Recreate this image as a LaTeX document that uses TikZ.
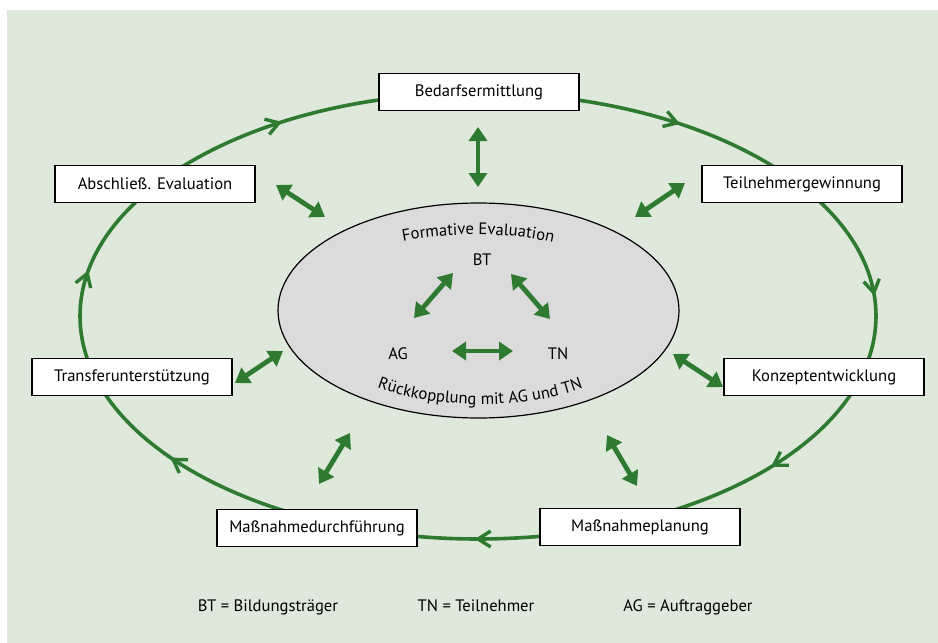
\documentclass[tikz,border=0pt]{standalone}
\usepackage{fontspec}
\setmainfont{PT Sans}
\usepackage{tikz}
\usetikzlibrary{arrows.meta,calc,shapes.geometric,decorations.text}

\definecolor{loopgreen}{RGB}{46,122,48}
\definecolor{bggreen}{RGB}{222,232,219}
\definecolor{ovalgray}{RGB}{218,219,218}

\newcommand{\labelfont}{\fontsize{16.6}{19}\selectfont}

\tikzset{
  phase/.style={draw=black,line width=1.2pt,fill=white,minimum width=200pt,
    minimum height=37pt,inner sep=0pt,font=\labelfont},
  cycleline/.style={draw=loopgreen,line width=3.6pt},
  cyclebarb/.style={draw=loopgreen,line width=3.4pt,line join=miter},
  twoway/.style={loopgreen,line width=4.8pt,
    {Triangle[length=14pt,width=18pt]}-{Triangle[length=14pt,width=18pt]}},
  role/.style={inner sep=1pt,font=\labelfont,anchor=base},
}

\begin{document}
\begin{tikzpicture}[x=1pt,y=-1pt]
  \useasboundingbox (0,0) rectangle (938,643);
  \fill[bggreen] (7,10) rectangle (938,643);

  % outer cycle
  \coordinate (c) at (478,316);
  \draw[cycleline] (c) ellipse [x radius=398pt, y radius=223pt];
  \foreach \a in {60,6,-42,-90,-140,169,120} {
    \pgfmathsetmacro{\th}{atan2(-223*cos(\a),398*sin(\a))}
    \coordinate (tip) at ($(c)+(\a:398pt and 223pt)$);
    \draw[cyclebarb] ($(tip)+(\th+148:15pt)$) -- (tip) -- ($(tip)+(\th-148:15pt)$);
  }

  % phases
  \node[phase] (bedarf)   at (479,92)  {Bedarfsermittlung};
  \node[phase] (teiln)    at (802,184) {Teilnehmergewinnung};
  \node[phase] (konzept)  at (824,377) {Konzeptentwicklung};
  \node[phase] (planung)  at (640,527) {Maßnahmeplanung};
  \node[phase] (durchf)   at (317,528) {Maßnahmedurchführung};
  \node[phase] (transfer) at (132,377) {Transferunterstützung};
  \node[phase] (abschl)   at (155,184) {Abschließ. Evaluation};

  % formative evaluation
  \node[ellipse,draw=black,line width=1.2pt,fill=ovalgray,minimum width=401pt,
    minimum height=215pt,inner sep=0pt] (fe) at (478.5,310.5) {};
  \path[decorate,decoration={text along path,text align=center,
      text={|\labelfont|Formative Evaluation}}]
    (394,243) .. controls (440,232) and (515,231) .. (562,245);
  \path[decorate,decoration={text along path,text align=center,
      text={|\labelfont|Rückkopplung mit AG und TN}}]
    (356,378) .. controls (416,412) and (544,414) .. (604,378);

  \node[role] (bt) at (482,265) {BT};
  \node[role] (ag) at (398,359) {AG};
  \node[role] (tn) at (558,359) {TN};

  % double arrows
  \foreach \n/\xa/\ya/\xb/\yb in {
      bd/478/127/478/187, tg/685/183/635/217, kz/723/387/673/354,
      mp/637/486/607/435, md/319/484/350/433, tu/235/383/283/351,
      ae/276/185/325/217, btag/453/273/414/318, bttn/511/274/550/319,
      agtn/452/351/513/351}
  {
    \coordinate (\n-a) at (\xa,\ya);
    \coordinate (\n-b) at (\xb,\yb);
    \draw[twoway] (\n-a) -- (\n-b);
  }

  % legend
  \node[role] (lbt) at (268,611) {BT = Bildungsträger};
  \node[role] (ltn) at (476,611) {TN = Teilnehmer};
  \node[role] (lag) at (688,611) {AG = Auftraggeber};
\end{tikzpicture}
\end{document}
